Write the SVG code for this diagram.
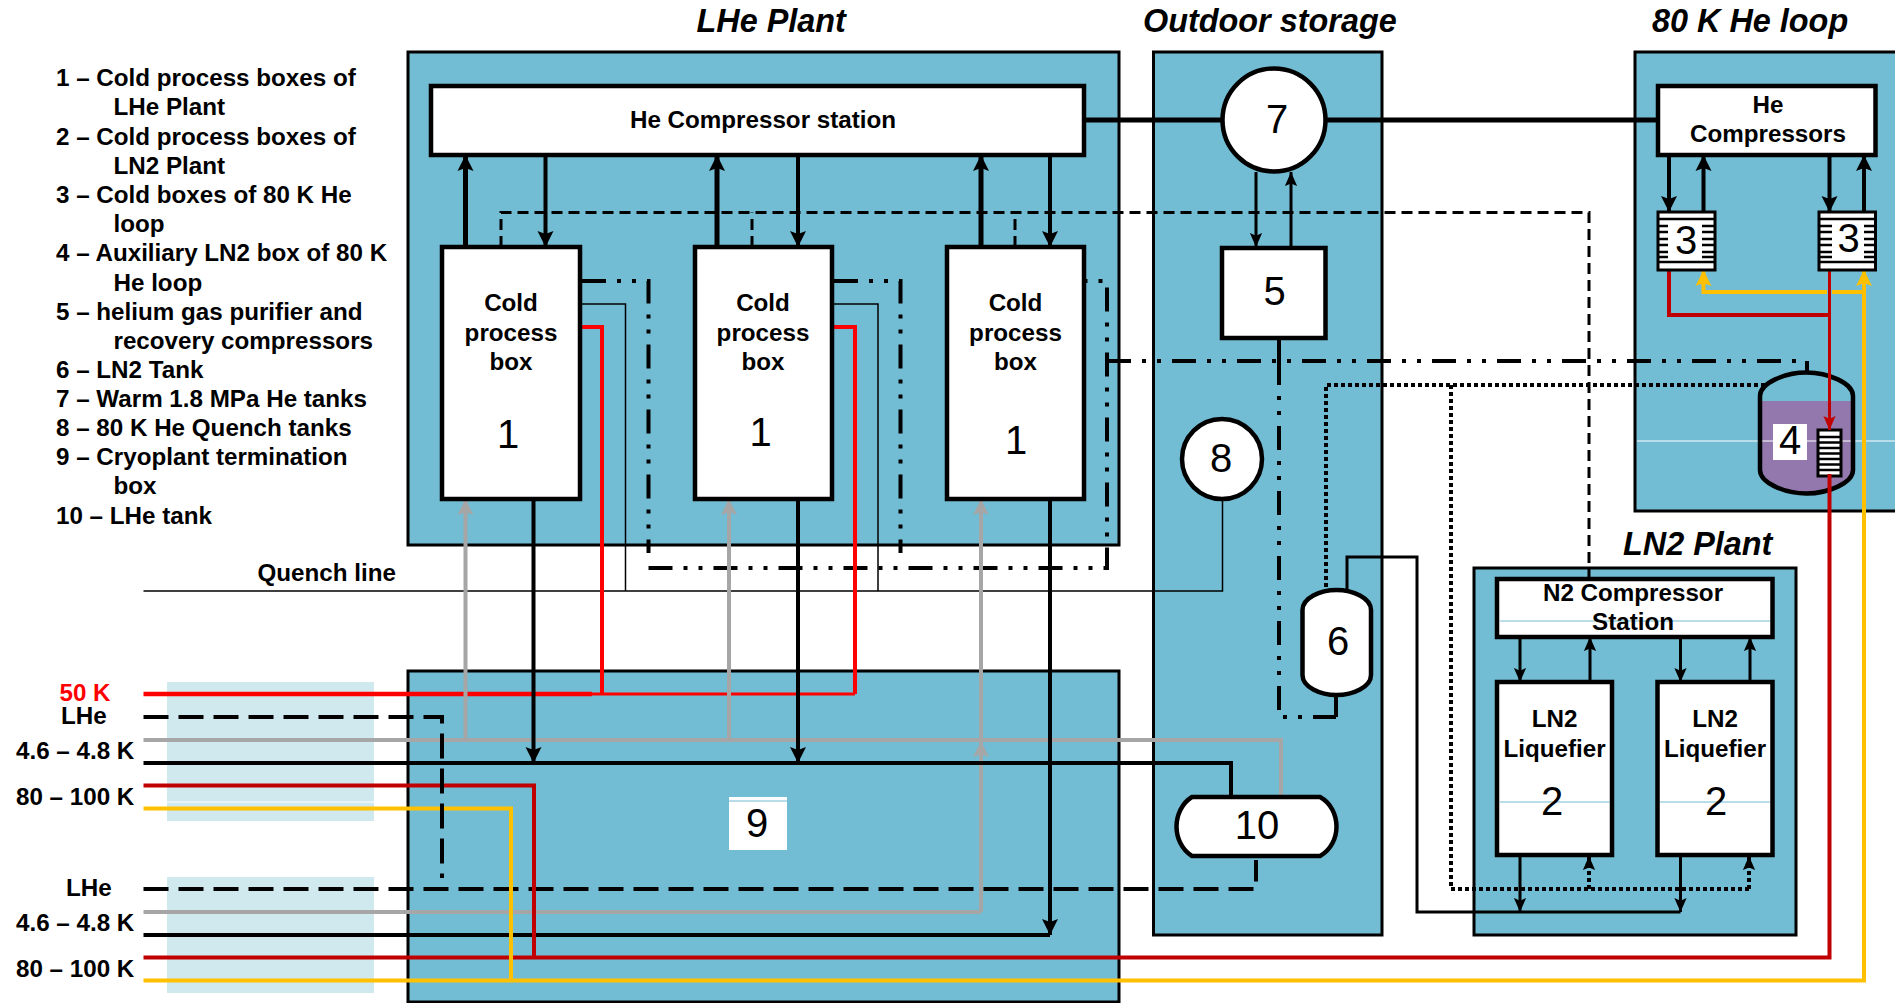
<svg xmlns="http://www.w3.org/2000/svg" width="1895" height="1003" viewBox="0 0 1895 1003">
<style>
text{font-family:"Liberation Sans",Arial,sans-serif;fill:#000}
.b{font-weight:700;font-size:24.2px}
.m{text-anchor:middle}
.h{font-weight:700;font-style:italic;font-size:32.4px}
.n{font-size:40px;text-anchor:middle}
.p{fill:#72BCD4;stroke:#000;stroke-width:3}
.bx{fill:#fff;stroke:#000;stroke-width:4.500}
.l{fill:none;stroke:#000;stroke-linejoin:miter}
.w5{stroke-width:5}.w4{stroke-width:4}.w3{stroke-width:3}.w2{stroke-width:1.500}
.red{stroke:#f00}.dr{stroke:#C00000}.yl{stroke:#FFC000}.gr{stroke:#A6A6A6}
.dash{stroke-dasharray:25 10}
.dash2{stroke-dasharray:11 6}
.dd{stroke-dasharray:24 11 4 11 4 11;stroke-width:4}
.dot{stroke-dasharray:4 3;stroke-width:4}
.teal{stroke:#72BCD4;stroke-width:1}
.wl{stroke:#fff;stroke-width:1}
.hs{stroke:#000;stroke-width:2.500}
</style>
<defs>
<marker id="a" viewBox="0 0 16 18" refX="16" refY="9" markerWidth="16" markerHeight="18" markerUnits="userSpaceOnUse" orient="auto"><path d="M0 1L16 9L0 17L3 9Z" fill="#000"/></marker>
<marker id="as" viewBox="0 0 16 14" refX="16" refY="7" markerWidth="14" markerHeight="13" markerUnits="userSpaceOnUse" orient="auto"><path d="M0 0L16 7L0 14L3 7Z" fill="#000"/></marker>
<marker id="ag" viewBox="0 0 16 18" refX="16" refY="9" markerWidth="16" markerHeight="18" markerUnits="userSpaceOnUse" orient="auto"><path d="M0 1L16 9L0 17L3 9Z" fill="#A6A6A6"/></marker>
<marker id="ay" viewBox="0 0 16 18" refX="16" refY="9" markerWidth="16" markerHeight="18" markerUnits="userSpaceOnUse" orient="auto"><path d="M0 1L16 9L0 17L3 9Z" fill="#FFC000"/></marker>
<marker id="ar" viewBox="0 0 16 14" refX="16" refY="7" markerWidth="14" markerHeight="13" markerUnits="userSpaceOnUse" orient="auto"><path d="M0 0L16 7L0 14L3 7Z" fill="#C00000"/></marker>
</defs>
<g id="legend" class="b">
<text x="56" y="86">1 – Cold process boxes of</text>
<text x="113.500" y="115">LHe Plant</text>
<text x="56" y="144.500">2 – Cold process boxes of</text>
<text x="113.500" y="173.500">LN2 Plant</text>
<text x="56" y="203">3 – Cold boxes of 80 K He</text>
<text x="113.500" y="232">loop</text>
<text x="56" y="261">4 – Auxiliary LN2 box of 80 K</text>
<text x="113.500" y="290.500">He loop</text>
<text x="56" y="319.500">5 – helium gas purifier and</text>
<text x="113.500" y="349">recovery compressors</text>
<text x="56" y="378">6 – LN2 Tank</text>
<text x="56" y="407">7 – Warm 1.8 MPa He tanks</text>
<text x="56" y="436">8 – 80 K He Quench tanks</text>
<text x="56" y="464.500">9 – Cryoplant termination</text>
<text x="113.500" y="494">box</text>
<text x="56" y="524">10 – LHe tank</text>
</g>
<g id="titles" class="h">
<text x="696.500" y="32">LHe Plant</text>
<text x="1143" y="32">Outdoor storage</text>
<text x="1652" y="32">80 K He loop</text>
<text x="1623" y="554.500">LN2 Plant</text>
</g>
<g id="panels">
<rect id="lhe-plant" class="p" x="408" y="52" width="711" height="493"/>
<rect id="termination-panel" class="p" x="408" y="671" width="711" height="331"/>
<rect id="outdoor-storage" class="p" x="1153.500" y="52" width="228.500" height="883"/>
<rect id="he-loop" class="p" x="1635" y="52" width="265" height="459"/>
<line class="wl" x1="1637" y1="441" x2="1895" y2="441"/>
<rect id="ln2-plant" class="p" x="1474" y="568" width="322" height="367"/>
<rect x="167" y="682" width="207" height="139" fill="#D0E9EF"/>
<line class="wl" x1="167" y1="802" x2="374" y2="802"/>
<rect x="167" y="877" width="207" height="116" fill="#D0E9EF"/>
</g>
<g id="node-4"><path fill="#72BCD4" d="M1760 396C1760 383 1785 372.500 1806.500 372.500C1828 372.500 1853 383 1853 396V401H1760Z"/><path fill="#9278AC" d="M1760 401H1853V470C1853 483 1828 493.500 1806.500 493.500C1785 493.500 1760 483 1760 470Z"/><line class="wl" x1="1760" y1="441" x2="1853" y2="441"/><path fill="none" stroke="#000" stroke-width="4.500" d="M1760 396C1760 383 1785 372.500 1806.500 372.500C1828 372.500 1853 383 1853 396V470C1853 483 1828 493.500 1806.500 493.500C1785 493.500 1760 483 1760 470Z"/><rect x="1773" y="424" width="34" height="36" fill="#fff"/><text class="n" x="1790" y="454">4</text><rect x="1818" y="430" width="23" height="46" fill="#fff" stroke="#000" stroke-width="3"/><path class="hs" d="M1818 437H1841M1818 442.500H1841M1818 448H1841M1818 453.500H1841M1818 459H1841M1818 464.500H1841M1818 470H1841"/></g>
<g id="connectors">
<path class="l w2" d="M143.500 591H1222.500V499M580 304H625.500V591M832 304H878V591"/>
<path class="l w3 dash2" d="M501 247V212.500H1589V581M752 247V212.500M1015 247V212.500"/>
<path class="l dd" d="M582 281H648.500V553M648.500 568H1107V281H1084M834 281H900.500V553"/>
<path class="l dd" d="M1107 361H1806"/>
<path class="l w4" d="M1807 361V372M1279 339V361"/>
<path class="l dd" d="M1279 361V717H1336"/>
<path class="l w4" d="M1336 717V695"/>
<path class="l dot" d="M1765 385H1326V590M1451 385V889H1749"/>
<path class="l dot" marker-end="url(#as)" d="M1589 889V856"/>
<path class="l dot" marker-end="url(#as)" d="M1749 889V856"/>
<path class="l w3" d="M1347 590V557H1417V912H1680.500"/>
<path class="l w3" marker-end="url(#as)" d="M1520 855V912"/>
<path class="l w3" marker-end="url(#as)" d="M1680.500 855V912"/>
<path class="l w3" marker-end="url(#as)" d="M1520 637V682"/>
<path class="l w3" marker-end="url(#as)" d="M1590 682V637"/>
<path class="l w3" marker-end="url(#as)" d="M1680.500 637V682"/>
<path class="l w3" marker-end="url(#as)" d="M1750 682V637"/>
<path class="l w5" d="M1084 120H1658"/>
<path class="l w5" marker-end="url(#a)" d="M465.500 247V155"/>
<path class="l w4" marker-end="url(#a)" d="M545.500 155V247"/>
<path class="l w5" marker-end="url(#a)" d="M717 247V155"/>
<path class="l w4" marker-end="url(#a)" d="M798 155V247"/>
<path class="l w5" marker-end="url(#a)" d="M981 247V155"/>
<path class="l w4" marker-end="url(#a)" d="M1050 155V247"/>
<path class="l w3" marker-end="url(#as)" d="M1256 172V247"/>
<path class="l w3" marker-end="url(#as)" d="M1291 247V172"/>
<path class="l w4" marker-end="url(#a)" d="M1669 155V212"/>
<path class="l w4" marker-end="url(#a)" d="M1703.500 213V155"/>
<path class="l w4" marker-end="url(#a)" d="M1829.500 155V212"/>
<path class="l w4" marker-end="url(#a)" d="M1864 213V155"/>
<path class="l red" style="stroke-width:4.500" d="M143.500 694H592"/>
<path class="l w3 red" d="M592 694H855"/>
<path class="l w4 red" d="M855 694V327H832M602 694V327H580"/>
<path class="l w4 gr" marker-end="url(#ag)" d="M465.500 740V499"/>
<path class="l w4 gr" marker-end="url(#ag)" d="M729 740V499"/>
<path class="l w4 gr" d="M143.500 740H440M444 740H531M536 740H796M800 740H1048M1052 740H1281V797"/>
<path class="l w4 gr" marker-end="url(#ag)" d="M981 912V499"/>
<path class="l w4 gr" d="M143.500 912H981"/>
<path class="l w4 gr" marker-end="url(#ag)" d="M981 760V741"/>
<path class="l w4" d="M143.500 763H1231V797"/>
<path class="l w4" d="M143.500 935H1050"/>
<path class="l w4" marker-end="url(#a)" d="M533.500 499V763"/>
<path class="l w4" marker-end="url(#a)" d="M798 499V763"/>
<path class="l w4" marker-end="url(#a)" d="M1050 499V935"/>
<path class="l w4 dash" d="M143.500 717H442V878"/>
<path class="l w4 dash" d="M143.500 889H1256V860"/>
<path class="l w4 dr" d="M143.500 785.500H440M444 785.500H534V957.500"/>
<path class="l w4 dr" d="M143.500 957.500H1829.500V474"/>
<path class="l w4 dr" d="M1669 270V315H1829.500"/>
<path class="l w3 dr" marker-end="url(#ar)" d="M1829.500 270V430"/>
<path class="l w4 yl" d="M143.500 808.500H440M444 808.500H511V980.500"/>
<path class="l w4 yl" d="M143.500 980.500H1864V270"/>
<path class="l w4 yl" d="M1864 292H1832M1827 292H1703.500V280"/>
<path class="l w4 yl" marker-end="url(#ay)" d="M1703.500 285V270"/>
<path class="l w4 yl" marker-end="url(#ay)" d="M1864 285V270"/>
</g>
<g id="he-compressor-station"><rect class="bx" x="431" y="86" width="653" height="69"/><text class="b m" x="763" y="128">He Compressor station</text></g>
<g id="cold-box-1a"><rect class="bx" x="442" y="247" width="138" height="252"/><text class="b m" x="511" y="311">Cold</text><text class="b m" x="511" y="340.500">process</text><text class="b m" x="511" y="370">box</text><text class="n" x="508" y="448">1</text></g>
<g id="cold-box-1b"><rect class="bx" x="695" y="247" width="137" height="252"/><text class="b m" x="763" y="311">Cold</text><text class="b m" x="763" y="340.500">process</text><text class="b m" x="763" y="370">box</text><text class="n" x="760.500" y="446">1</text></g>
<g id="cold-box-1c"><rect class="bx" x="947" y="247" width="137" height="252"/><text class="b m" x="1015.500" y="311">Cold</text><text class="b m" x="1015.500" y="340.500">process</text><text class="b m" x="1015.500" y="370">box</text><text class="n" x="1016" y="453.500">1</text></g>
<g id="node-7"><circle class="bx" cx="1274" cy="120" r="51.500"/><text class="n" x="1277" y="133">7</text></g>
<g id="node-5"><rect class="bx" x="1222" y="248" width="103.500" height="90"/><text class="n" x="1274.500" y="305">5</text></g>
<g id="node-8"><circle class="bx" cx="1222" cy="459" r="40"/><text class="n" x="1221" y="472">8</text></g>
<g id="node-9"><rect x="729" y="797" width="58" height="53" fill="#fff"/><line class="teal" x1="729" y1="801" x2="787" y2="801"/><text class="n" x="757" y="837">9</text></g>
<g id="node-10"><path class="bx" d="M1192 797H1320C1331 803 1336.500 815 1336.500 826.500C1336.500 838 1331 850 1320 856H1192C1182 850 1176.500 838 1176.500 826.500C1176.500 815 1182 803 1192 797Z"/><text class="n" x="1257" y="839">10</text></g>
<g id="node-6"><path class="bx" d="M1302.500 610C1302.500 598 1320 590 1336.500 590C1353 590 1371 598 1371 610V675C1371 687 1353 695 1336.500 695C1320 695 1302.500 687 1302.500 675Z"/><text class="n" x="1338" y="655">6</text></g>
<g id="he-compressors"><rect class="bx" x="1658" y="86" width="217.500" height="69"/><text class="b m" x="1768" y="113">He</text><text class="b m" x="1768" y="142">Compressors</text></g>
<g id="node-3a"><rect class="bx" style="stroke-width:3" x="1658" y="212" width="57" height="58"/><path class="hs" d="M1658 219H1715M1658 226H1668M1702 226H1715M1658 232H1668M1702 232H1715M1658 239H1668M1702 239H1715M1658 245H1668M1702 245H1715M1658 252H1668M1702 252H1715M1658 257H1668M1702 257H1715M1658 262H1715"/><text class="n" x="1686" y="254">3</text></g>
<g id="node-3b"><rect class="bx" style="stroke-width:3" x="1819" y="212" width="56.500" height="58"/><path class="hs" d="M1819 219H1875M1819 226H1832M1864 226H1875M1819 232H1832M1864 232H1875M1819 239H1832M1864 239H1875M1819 245H1832M1864 245H1875M1819 252H1832M1864 252H1875M1819 257H1832M1864 257H1875M1819 262H1875"/><text class="n" x="1848.500" y="252">3</text></g>
<g id="n2-compressor-station"><rect class="bx" x="1497" y="579" width="275.500" height="58"/><line class="teal" x1="1500" y1="621" x2="1770" y2="621"/><text class="b m" x="1633" y="601">N2 Compressor</text><text class="b m" x="1633" y="630">Station</text></g>
<g id="liquefier-a"><rect class="bx" x="1497" y="682" width="115" height="173"/><line class="teal" x1="1500" y1="802" x2="1610" y2="802"/><text class="b m" x="1554.500" y="727">LN2</text><text class="b m" x="1554.500" y="757">Liquefier</text><text class="n" x="1552" y="815">2</text></g>
<g id="liquefier-b"><rect class="bx" x="1657.500" y="682" width="115" height="173"/><line class="teal" x1="1660" y1="802" x2="1770" y2="802"/><text class="b m" x="1715" y="727">LN2</text><text class="b m" x="1715" y="757">Liquefier</text><text class="n" x="1716" y="815">2</text></g>
<g id="labels" class="b">
<text x="257.500" y="581">Quench line</text>
<text x="59.500" y="700.500" style="fill:#f00">50 K</text>
<text x="61" y="724">LHe</text>
<text x="16" y="759">4.6 – 4.8 K</text>
<text x="16" y="805">80 – 100 K</text>
<text x="66" y="896">LHe</text>
<text x="16" y="931">4.6 – 4.8 K</text>
<text x="16" y="977">80 – 100 K</text>
</g>
</svg>
